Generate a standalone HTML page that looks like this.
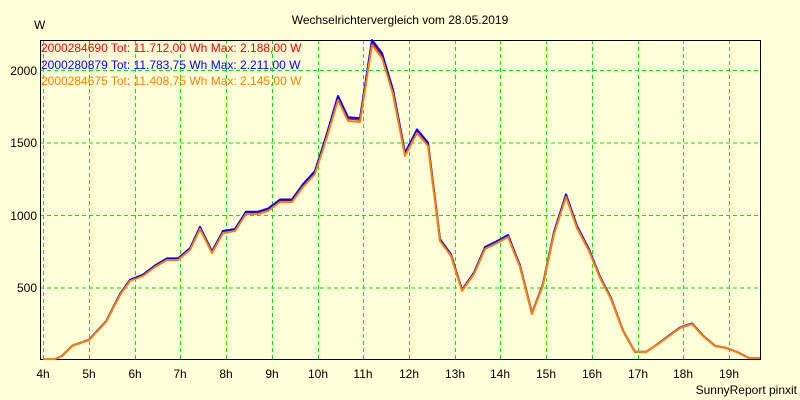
<!DOCTYPE html>
<html><head><meta charset="utf-8"><style>
html,body{margin:0;padding:0;background:#ffffd8}
svg{display:block}
text{font-family:"Liberation Sans",sans-serif;font-size:12px}
</style></head><body>
<svg width="800" height="400" viewBox="0 0 800 400">
<rect width="800" height="400" fill="#ffffd8"/>
<text x="400" y="24" text-anchor="middle" font-size="12">Wechselrichtervergleich vom 28.05.2019</text>
<text x="34" y="29" font-size="13">W</text>
<g stroke="#00e600" stroke-dasharray="4,3" stroke-width="1">
<line x1="40" y1="70.5" x2="760" y2="70.5"/>
<line x1="40" y1="143" x2="760" y2="143"/>
<line x1="40" y1="215.5" x2="760" y2="215.5"/>
<line x1="40" y1="288" x2="760" y2="288"/>
<line x1="43.5" y1="40" x2="43.5" y2="359"/>
<line x1="89.5" y1="40" x2="89.5" y2="359"/>
<line x1="135.5" y1="40" x2="135.5" y2="359"/>
<line x1="180.5" y1="40" x2="180.5" y2="359"/>
<line x1="226.5" y1="40" x2="226.5" y2="359"/>
<line x1="272.5" y1="40" x2="272.5" y2="359"/>
<line x1="318.5" y1="40" x2="318.5" y2="359"/>
<line x1="363.5" y1="40" x2="363.5" y2="359"/>
<line x1="409.5" y1="40" x2="409.5" y2="359"/>
<line x1="455.5" y1="40" x2="455.5" y2="359"/>
<line x1="500.5" y1="40" x2="500.5" y2="359"/>
<line x1="546.5" y1="40" x2="546.5" y2="359"/>
<line x1="592.5" y1="40" x2="592.5" y2="359"/>
<line x1="638.5" y1="40" x2="638.5" y2="359"/>
<line x1="683.5" y1="40" x2="683.5" y2="359"/>
<line x1="729.5" y1="40" x2="729.5" y2="359"/>
</g>
<polyline fill="none" stroke="#000" stroke-width="1" points="40.5,40 40.5,359.5 760.5,359.5 760.5,40"/>
<line x1="40" y1="40.5" x2="760" y2="40.5" stroke="#000"/>
<g text-anchor="end" font-size="12">
<text x="37" y="75">2000</text><text x="37" y="147">1500</text><text x="37" y="220">1000</text><text x="37" y="292">500</text>
</g>
<g text-anchor="middle" font-size="12">
<text x="43" y="378">4h</text><text x="89" y="378">5h</text><text x="135" y="378">6h</text><text x="180" y="378">7h</text><text x="226" y="378">8h</text><text x="272" y="378">9h</text><text x="318" y="378">10h</text><text x="363" y="378">11h</text><text x="409" y="378">12h</text><text x="455" y="378">13h</text><text x="500" y="378">14h</text><text x="546" y="378">15h</text><text x="592" y="378">16h</text><text x="638" y="378">17h</text><text x="683" y="378">18h</text><text x="729" y="378">19h</text>
</g>
<text x="797" y="394" text-anchor="end" font-size="11">SunnyReport pinxit</text>
<g id="s" fill="none" stroke-width="2" stroke-linejoin="round"></g>
<g font-size="11">
<text x="41" y="52" fill="#ff0000">2000284690 Tot: 11.712,00 Wh Max: 2.188,00 W</text>
<text x="41" y="69" fill="#0000ff">2000280879 Tot: 11.783,75 Wh Max: 2.211,00 W</text>
<text x="41" y="85" fill="#ff8000">2000284675 Tot: 11.408,75 Wh Max: 2.145,00 W</text>
</g>
<script>
var d=[[43,359],[55,359],[62,356],[72,346],[89,340],[106,322],[120,295],[130,281],[143,276],[155,267],[167,260],[178,260],[190,250],[200,229],[212,253],[223,233],[235,231],[246,214],[258,214],[268,211],[280,202],[292,202],[303,187],[315,174],[327,137],[338,100],[348,121],[360,122],[372,45],[382,58],[393,94],[405,156],[417,133],[428,146],[440,241],[451,256],[462,291],[474,274],[485,249],[497,243],[508,237],[520,267],[532,314],[543,285],[554,234],[566,197],[577,228],[589,251],[600,278],[611,299],[623,331],[635,352],[646,352],[658,344],[669,336],[680,328],[692,324],[703,336],[715,346],[726,348],[737,352],[749,358],[760,358]];
var g=document.getElementById('s');
[['#ff0000',1.01],['#0000ff',1.016],['#ff8000',1.0]].forEach(function(c){
var p=d.map(function(q){return q[0]+','+(359-(359-q[1])*c[1]).toFixed(1)}).join(' ');
var e=document.createElementNS('http://www.w3.org/2000/svg','polyline');
e.setAttribute('points',p);e.setAttribute('stroke',c[0]);g.appendChild(e);});
</script>
</svg>
</body></html>
